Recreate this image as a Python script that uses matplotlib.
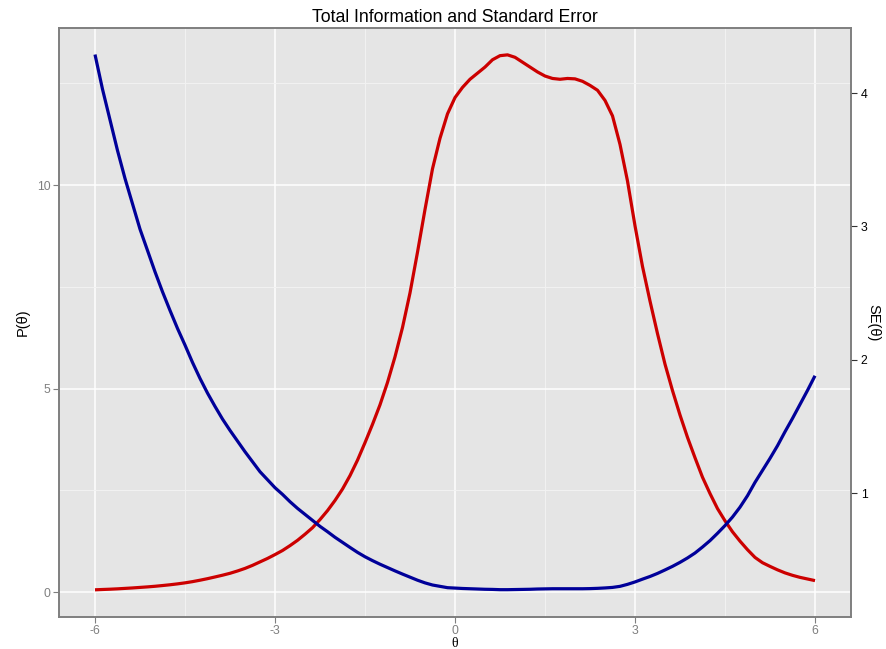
import matplotlib
matplotlib.use("Agg")
import matplotlib.pyplot as plt

plt.rcParams["axes.unicode_minus"] = False

# ---- data ----
theta = [-6.0, -5.875, -5.75, -5.625, -5.5, -5.375, -5.25, -5.125, -5.0, -4.875, -4.75,
         -4.625, -4.5, -4.375, -4.25, -4.125, -4.0, -3.875, -3.75, -3.625, -3.5, -3.375,
         -3.25, -3.125, -3.0, -2.875, -2.75, -2.625, -2.5, -2.375, -2.25, -2.125, -2.0,
         -1.875, -1.75, -1.625, -1.5,
         -1.375, -1.25, -1.125, -1.0, -0.875, -0.75, -0.625, -0.5, -0.375, -0.25, -0.125,
         0.0, 0.125, 0.25, 0.375, 0.5, 0.625, 0.75, 0.875, 1.0, 1.125, 1.25, 1.375, 1.5,
         1.625, 1.75, 1.875, 2.0, 2.125, 2.25, 2.375, 2.5, 2.625, 2.75, 2.875, 3.0,
         3.125, 3.25, 3.375, 3.5, 3.625, 3.75, 3.875, 4.0,
         4.125, 4.25, 4.375, 4.5, 4.625, 4.75, 4.875, 5.0, 5.125, 5.25, 5.375, 5.5,
         5.625, 5.75, 5.875, 6.0]

information = [0.054, 0.062, 0.069, 0.078, 0.089, 0.10, 0.113, 0.126, 0.141, 0.159, 0.178,
               0.20, 0.225, 0.255, 0.29, 0.328, 0.37, 0.413, 0.46, 0.517, 0.58, 0.655,
               0.74, 0.825, 0.92, 1.02, 1.14, 1.27, 1.42, 1.58, 1.78, 2.0, 2.25,
               2.53, 2.86, 3.24, 3.67,
               4.12, 4.6, 5.15, 5.78, 6.5, 7.35, 8.35, 9.4, 10.4, 11.15, 11.75,
               12.15, 12.4, 12.6, 12.75, 12.9, 13.08, 13.18, 13.2, 13.14, 13.02, 12.9, 12.78, 12.68,
               12.62, 12.6, 12.62, 12.61, 12.55, 12.45, 12.33, 12.08, 11.7, 11.0, 10.1, 9.0,
               8.0, 7.15, 6.35, 5.6, 4.95, 4.35, 3.8, 3.3,
               2.82, 2.42, 2.05, 1.75, 1.48, 1.25, 1.04, 0.85, 0.72, 0.63, 0.545, 0.47,
               0.41, 0.36, 0.32, 0.28]

std_error = [4.29, 4.03, 3.80, 3.57, 3.36, 3.17, 2.98, 2.82, 2.66, 2.51, 2.37,
             2.235, 2.11, 1.98, 1.86, 1.75, 1.65, 1.555, 1.47, 1.39, 1.31, 1.235,
             1.16, 1.10, 1.04, 0.99, 0.935, 0.885, 0.84, 0.795, 0.75, 0.71, 0.668,
             0.63, 0.592, 0.555, 0.522,
             0.493, 0.466, 0.441, 0.416, 0.392, 0.369, 0.346, 0.326, 0.31, 0.30, 0.29,
             0.287, 0.284, 0.282, 0.28, 0.278, 0.277, 0.275, 0.275, 0.276, 0.277, 0.278, 0.28, 0.281,
             0.282, 0.282, 0.282, 0.282, 0.282, 0.283, 0.285, 0.288, 0.292, 0.30, 0.315, 0.333,
             0.354, 0.374, 0.397, 0.423, 0.45, 0.48, 0.513, 0.55,
             0.595, 0.643, 0.698, 0.756, 0.82, 0.894, 0.98, 1.08, 1.17, 1.26, 1.355, 1.46,
             1.56, 1.665, 1.77, 1.88]

x_ticks = [-6, -3, 0, 3, 6]
x_minor = [-4.5, -1.5, 1.5, 4.5]
y_ticks = [0, 5, 10]
y_minor = [2.5, 7.5, 12.5]
se_ticks = [1, 2, 3, 4]

title = "Total Information and Standard Error"
xlabel = "θ"
ylabel = "P(θ)"
ylabel2 = "SE(θ)"

# ---- styling ----
SANS = ["Liberation Sans", "DejaVu Sans"]
DPI = 100
fig = plt.figure(figsize=(8.87, 6.49), dpi=DPI)
ax = fig.add_axes([59 / 887, 1 - 617 / 649, (851 - 59) / 887, (617 - 28) / 649])
ax.set_facecolor("#E5E5E5")

ax.set_xlim(-6.6, 6.6)
ax.set_ylim(-0.614, 13.86)

ax.set_xticks(x_ticks)
ax.set_xticks(x_minor, minor=True)
ax.set_yticks(y_ticks)
ax.set_yticks(y_minor, minor=True)
ax.grid(which="major", color="white", linewidth=1.1)
ax.grid(which="minor", color="#F2F2F2", linewidth=0.7)
ax.set_axisbelow(True)

grey = "#7F7F7F"
ax.tick_params(axis="both", which="major", length=4, width=0.8, color=grey,
               labelcolor=grey, labelsize=8.8, pad=2)
ax.tick_params(axis="x", which="major", pad=1.5)
ax.tick_params(axis="both", which="minor", length=0)
for lab in ax.get_xticklabels() + ax.get_yticklabels():
    lab.set_family(SANS)
for s in ax.spines.values():
    s.set_color(grey)
    s.set_linewidth(1.2)

ax.plot(theta, information, color="#CC0000", linewidth=2.3,
        solid_capstyle="butt", solid_joinstyle="round")

ax2 = ax.twinx()
ax2.set_ylim(0.070, 4.489)
ax2.set_yticks(se_ticks)
ax2.plot(theta, std_error, color="#000099", linewidth=2.3,
         solid_capstyle="butt", solid_joinstyle="round")
ax2.tick_params(axis="y", length=4, width=0.8, color="#333333",
                labelcolor="black", labelsize=8.8, pad=3)
for lab in ax2.get_yticklabels():
    lab.set_family(SANS)
for s in ax2.spines.values():
    s.set_color(grey)
    s.set_linewidth(1.2)

ax.set_title(title, family=SANS, fontsize=12.7, color="black", pad=4)
ax.set_xlabel(xlabel, family=["Liberation Serif", "DejaVu Serif"], fontsize=10,
              va="baseline")
ax.xaxis.set_label_coords(0.5, -(647 - 617) / 589)
ax.set_ylabel(ylabel, family=SANS, fontsize=10.5, labelpad=5)
ax2.set_ylabel(ylabel2, family=SANS, fontsize=10.5, rotation=270, labelpad=9)

fig.savefig("out.png", dpi=DPI)
